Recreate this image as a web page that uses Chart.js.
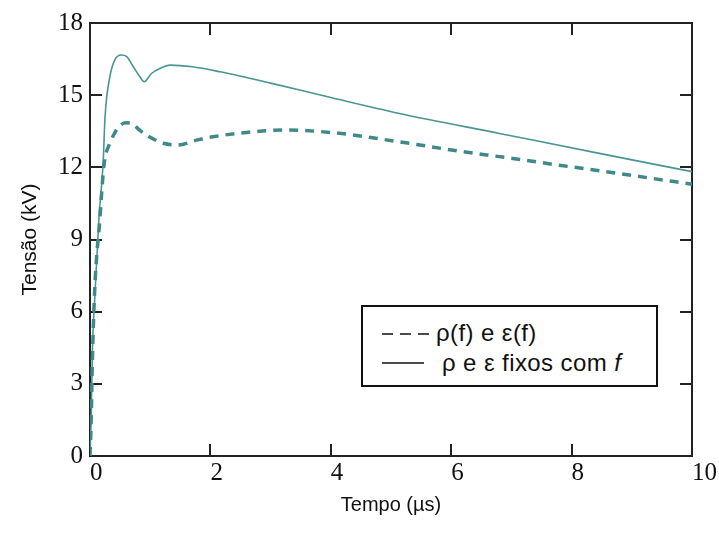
<!DOCTYPE html>
<html>
<head>
<meta charset="utf-8">
<script src="https://cdn.jsdelivr.net/npm/chart.js@4/dist/chart.umd.min.js"></script>
<style>
  html, body { margin: 0; padding: 0; background: #fff; }
  #wrap { position: relative; width: 719px; height: 535px; }
  canvas { display: block; }
  .legend {
    position: absolute; left: 361px; top: 305px; width: 293px; height: 78px;
    border: 2px solid #111; background: #fff;
    font-family: "Liberation Sans", Arial, sans-serif; font-size: 24px; color: #111;
    letter-spacing: 0.4px;
  }
  .legend svg { position: absolute; }
  .legend span { position: absolute; white-space: nowrap; line-height: 1; }
</style>
</head>
<body>
<div id="wrap">
  <canvas id="c" width="719" height="535"></canvas>
  <div class="legend">
    <svg style="left:19px;top:24px" width="48" height="6">
      <line x1="0" y1="3" x2="48" y2="3" stroke="#111" stroke-width="1.5" stroke-dasharray="11 7"/>
    </svg>
    <span style="left:73px;top:14px">ρ(f) e ε(f)</span>
    <svg style="left:19px;top:53px" width="42" height="6">
      <line x1="0" y1="3" x2="42" y2="3" stroke="#111" stroke-width="1.5"/>
    </svg>
    <span style="left:79px;top:44px">ρ e ε fixos com <i>f</i></span>
  </div>
</div>
<script>
// Tensão induzida (kV) ao longo do tempo (µs)

// Curva com ρ(f) e ε(f) dependentes da frequência
const tempoVariavel = [0, 0.02, 0.04, 0.08, 0.12, 0.15, 0.19, 0.22, 0.25, 0.33, 0.46, 0.6, 0.69, 0.8, 0.94, 1.22, 1.46, 1.77, 2.04, 2.6, 3.2, 4.0, 5.14, 6.19, 7.02, 7.79, 8.57, 9.34, 10];
const tensaoVariavel = [0, 1.5, 4.0, 7.0, 8.6, 9.4, 10.8, 11.8, 12.4, 13.0, 13.63, 13.85, 13.83, 13.6, 13.34, 13.0, 12.93, 13.13, 13.27, 13.45, 13.55, 13.45, 13.06, 12.65, 12.37, 12.09, 11.82, 11.54, 11.3];

// Curva com ρ e ε fixos com f
const tempoFixo = [0, 0.02, 0.04, 0.08, 0.15, 0.2, 0.22, 0.25, 0.33, 0.41, 0.52, 0.61, 0.72, 0.82, 0.9, 1.02, 1.16, 1.33, 1.7, 2.16, 3.0, 4.0, 5.14, 6.8, 8.46, 10];
const tensaoFixo = [0, 1.6, 4.4, 6.6, 9.95, 11.5, 12.3, 14.1, 15.77, 16.46, 16.67, 16.6, 16.18, 15.8, 15.56, 15.9, 16.11, 16.25, 16.18, 15.97, 15.5, 14.9, 14.24, 13.41, 12.58, 11.82];

// Marcas dos eixos
const ticksTempo = [0, 2, 4, 6, 8, 10];
const ticksTensao = [0, 3, 6, 9, 12, 15, 18];

const pares = (xs, ys) => xs.map((x, i) => ({ x, y: ys[i] }));

// Moldura fechada com marcas voltadas para dentro nos quatro lados
const moldura = {
  id: 'moldura',
  beforeDatasetsDraw(chart) {
    const { ctx, chartArea: { left, right, top, bottom }, scales: { x, y } } = chart;
    const L = 12;
    ctx.save();
    ctx.strokeStyle = '#222';
    ctx.lineWidth = 2;
    ctx.strokeRect(left, top, right - left, bottom - top);
    ctx.beginPath();
    x.ticks.forEach(t => {
      const px = Math.round(x.getPixelForValue(t.value));
      ctx.moveTo(px, bottom); ctx.lineTo(px, bottom - L);
      ctx.moveTo(px, top); ctx.lineTo(px, top + L);
    });
    y.ticks.forEach(t => {
      const py = Math.round(y.getPixelForValue(t.value));
      ctx.moveTo(left, py); ctx.lineTo(left + L, py);
      ctx.moveTo(right, py); ctx.lineTo(right - L, py);
    });
    ctx.stroke();
    ctx.restore();
  }
};

const fonteSerif = { family: '"Liberation Serif", "Times New Roman", serif', size: 25 };
const fonteSansX = { family: '"Liberation Sans", Arial, sans-serif', size: 20 };
const fonteSansY = { family: '"Liberation Sans", Arial, sans-serif', size: 21 };

new Chart(document.getElementById('c'), {
  type: 'line',
  data: {
    datasets: [
      {
        label: 'ρ(f) e ε(f)',
        data: pares(tempoVariavel, tensaoVariavel),
        borderColor: '#3f8a88',
        borderWidth: 3.5,
        borderDash: [9, 7],
        pointRadius: 0,
        cubicInterpolationMode: 'monotone',
        fill: false
      },
      {
        label: 'ρ e ε fixos com f',
        data: pares(tempoFixo, tensaoFixo),
        borderColor: '#4a9592',
        borderWidth: 1.6,
        pointRadius: 0,
        cubicInterpolationMode: 'monotone',
        fill: false
      }
    ]
  },
  options: {
    responsive: false,
    animation: false,
    devicePixelRatio: 1,
    layout: { padding: { left: 0, top: 23, right: 26, bottom: 0 } },
    plugins: { legend: { display: false }, tooltip: { enabled: false } },
    scales: {
      x: {
        type: 'linear',
        min: ticksTempo[0],
        max: ticksTempo[ticksTempo.length - 1],
        afterBuildTicks: s => { s.ticks = ticksTempo.map(v => ({ value: v })); },
        ticks: { font: fonteSerif, color: '#111', padding: 2, align: 'start', maxRotation: 0 },
        grid: { display: false, drawTicks: false },
        border: { display: false },
        title: { display: true, text: 'Tempo (µs)', font: fonteSansX, color: '#111', padding: { top: 0, bottom: 18 } },
        afterFit: s => { s.height = 79; }
      },
      y: {
        type: 'linear',
        min: ticksTensao[0],
        max: ticksTensao[ticksTensao.length - 1],
        afterBuildTicks: s => { s.ticks = ticksTensao.map(v => ({ value: v })); },
        ticks: { font: fonteSerif, color: '#111', padding: 7 },
        grid: { display: false, drawTicks: false },
        border: { display: false },
        title: { display: true, text: 'Tensão (kV)', font: fonteSansY, color: '#111', padding: { top: 18, bottom: 0 } },
        afterFit: s => { s.width = 90; }
      }
    }
  },
  plugins: [moldura]
});
</script>
</body>
</html>
